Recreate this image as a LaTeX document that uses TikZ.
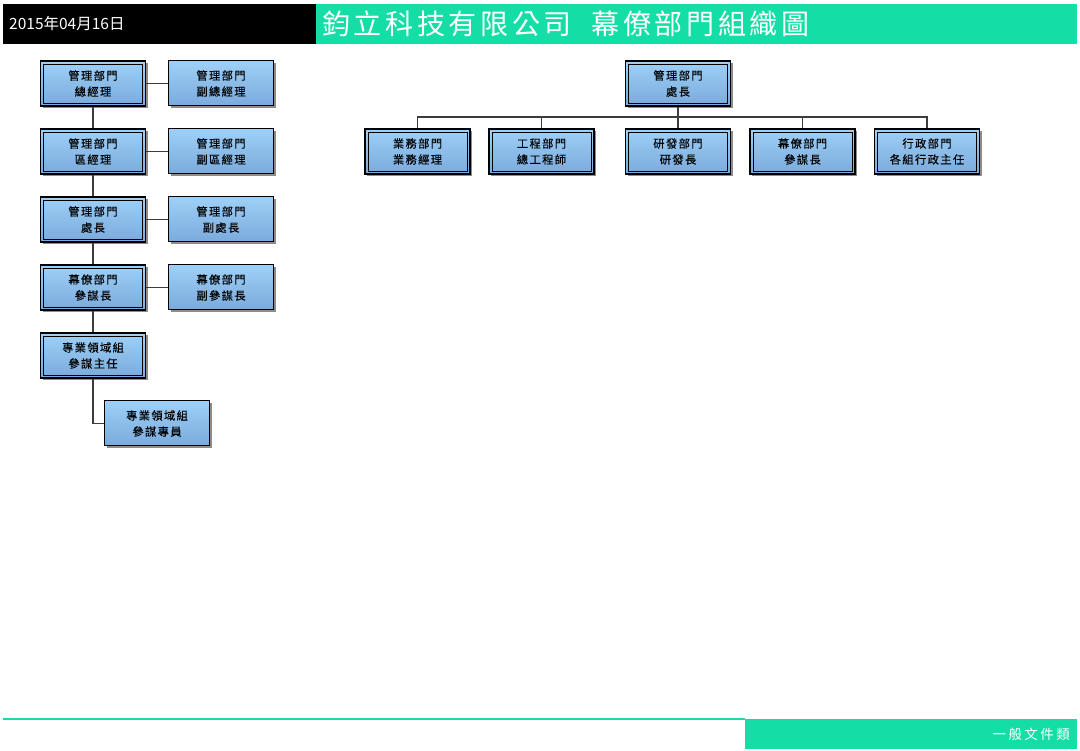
\documentclass[tikz,border=0pt]{standalone}
\usepackage{fontspec}
\setmainfont{Noto Sans CJK TC}
\newfontfamily\boxfont[LetterSpace=12,FakeBold=0.2]{Noto Sans CJK TC}
\newfontfamily\titlefont[LetterSpace=13]{Noto Sans CJK TC}
\newfontfamily\footfont[LetterSpace=18]{Noto Sans CJK TC}
\usetikzlibrary{shadows}
\definecolor{hdrgreen}{RGB}{20,222,166}
\definecolor{boxtop}{RGB}{158,208,247}
\definecolor{boxbot}{RGB}{122,170,220}
\definecolor{linkgray}{RGB}{60,60,60}
\tikzset{
  unit/.style={draw=black, line width=1pt, top color=boxtop, bottom color=boxbot,
    minimum width=105pt, minimum height=45pt, inner sep=0pt, align=center,
    font=\boxfont\fontsize{11.3}{16}\selectfont,
    drop shadow={shadow xshift=2pt, shadow yshift=-2pt, fill=black, opacity=0.45}},
  mgr/.style={unit, line width=1.2pt,
    path picture={\draw[line width=0.9pt]
      ([shift={(3pt,-3pt)}]path picture bounding box.north west) rectangle
      ([shift={(-3pt,3pt)}]path picture bounding box.south east);}},
  link/.style={draw=linkgray, line width=1.2pt},
}
\begin{document}
\begin{tikzpicture}[x=1pt,y=-1pt]
\useasboundingbox (0,0) rectangle (1080,751);
% header
\fill[black] (3,4) rectangle (316,44);
\fill[hdrgreen] (316,4) rectangle (1077,44);
\node[anchor=west, text=white, inner sep=0pt, font=\fontsize{15.5}{17}\selectfont] (date) at (9,24) {2015年04月16日};
\node[anchor=west, text=white, inner sep=0pt, font=\titlefont\fontsize{28}{30}\selectfont] (title) at (322,24) {鈞立科技有限公司\hspace{20pt}幕僚部門組織圖};
% footer
\draw[hdrgreen, line width=1.5pt] (3,719) -- (745,719);
\fill[hdrgreen] (745,719) rectangle (1077,749);
\node[anchor=east, text=white, inner sep=0pt, font=\footfont\fontsize{13.5}{15}\selectfont] (foot) at (1070,734) {一般文件類};
% left column
\node[mgr] (l1) at (93,83.5) {管理部門\\總經理};
\node[unit] (r1) at (221,83.5) {管理部門\\副總經理};
\node[mgr] (l2) at (93,151.5) {管理部門\\區經理};
\node[unit] (r2) at (221,151.5) {管理部門\\副區經理};
\node[mgr] (l3) at (93,219.5) {管理部門\\處長};
\node[unit] (r3) at (221,219.5) {管理部門\\副處長};
\node[mgr] (l4) at (93,287.5) {幕僚部門\\參謀長};
\node[unit] (r4) at (221,287.5) {幕僚部門\\副參謀長};
\node[mgr] (l5) at (93,355.5) {專業領域組\\參謀主任};
\node[unit] (l6) at (157,423.5) {專業領域組\\參謀專員};
\draw[link] (l1.south) -- (l2.north);
\draw[link] (l2.south) -- (l3.north);
\draw[link] (l3.south) -- (l4.north);
\draw[link] (l4.south) -- (l5.north);
\draw[link] (l1.east) -- (r1.west);
\draw[link] (l2.east) -- (r2.west);
\draw[link] (l3.east) -- (r3.west);
\draw[link] (l4.east) -- (r4.west);
\draw[link] (l5.south) |- (l6.west);
% right tree
\node[mgr] (top) at (678,83.5) {管理部門\\處長};
\node[mgr] (c1) at (417.5,151.5) {業務部門\\業務經理};
\node[mgr] (c2) at (541.5,151.5) {工程部門\\總工程師};
\node[mgr] (c3) at (678,151.5) {研發部門\\研發長};
\node[mgr] (c4) at (802.5,151.5) {幕僚部門\\參謀長};
\node[mgr] (c5) at (927,151.5) {行政部門\\各組行政主任};
\coordinate (bus) at (678,117);
\draw[link] (top.south) -- (c3.north);
\draw[link] (bus) -| (c1.north);
\draw[link] (bus) -| (c2.north);
\draw[link] (bus) -| (c4.north);
\draw[link] (bus) -| (c5.north);
\end{tikzpicture}
\end{document}
